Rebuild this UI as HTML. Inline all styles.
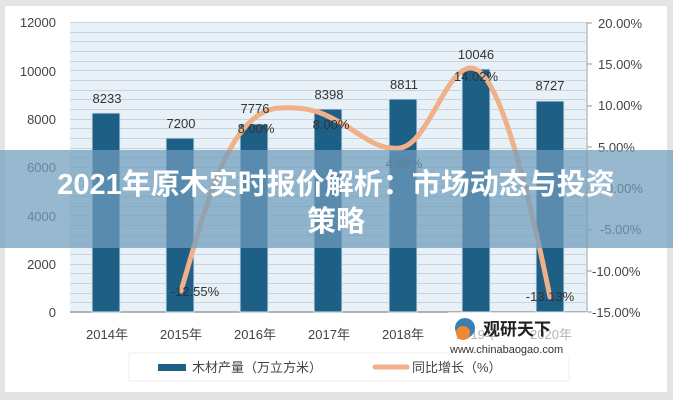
<!DOCTYPE html>
<html><head><meta charset="utf-8"><style>
body{margin:0;background:#e6e6e6;}
svg{display:block;}
text{font-family:"Liberation Sans","Noto Sans CJK SC",sans-serif;}
</style></head><body>
<svg width="673" height="400" viewBox="0 0 673 400" xmlns="http://www.w3.org/2000/svg">
<rect x="0" y="0" width="673" height="400" fill="#e4e4e4"/>
<rect x="5" y="6" width="662" height="386" fill="#ffffff"/>
<rect x="70" y="22" width="516" height="290" fill="#e9f1f8"/>
<g stroke="#c9d3dd" stroke-width="1">
<line x1="70" x2="586" y1="22.5" y2="22.5"/><line x1="70" x2="586" y1="32.5" y2="32.5"/><line x1="70" x2="586" y1="41.5" y2="41.5"/><line x1="70" x2="586" y1="51.5" y2="51.5"/><line x1="70" x2="586" y1="61.5" y2="61.5"/><line x1="70" x2="586" y1="70.5" y2="70.5"/><line x1="70" x2="586" y1="80.5" y2="80.5"/><line x1="70" x2="586" y1="90.5" y2="90.5"/><line x1="70" x2="586" y1="99.5" y2="99.5"/><line x1="70" x2="586" y1="109.5" y2="109.5"/><line x1="70" x2="586" y1="119.5" y2="119.5"/><line x1="70" x2="586" y1="128.5" y2="128.5"/><line x1="70" x2="586" y1="138.5" y2="138.5"/><line x1="70" x2="586" y1="148.5" y2="148.5"/><line x1="70" x2="586" y1="157.5" y2="157.5"/><line x1="70" x2="586" y1="167.5" y2="167.5"/><line x1="70" x2="586" y1="177.5" y2="177.5"/><line x1="70" x2="586" y1="186.5" y2="186.5"/><line x1="70" x2="586" y1="196.5" y2="196.5"/><line x1="70" x2="586" y1="206.5" y2="206.5"/><line x1="70" x2="586" y1="215.5" y2="215.5"/><line x1="70" x2="586" y1="225.5" y2="225.5"/><line x1="70" x2="586" y1="235.5" y2="235.5"/><line x1="70" x2="586" y1="244.5" y2="244.5"/><line x1="70" x2="586" y1="254.5" y2="254.5"/><line x1="70" x2="586" y1="264.5" y2="264.5"/><line x1="70" x2="586" y1="273.5" y2="273.5"/><line x1="70" x2="586" y1="283.5" y2="283.5"/><line x1="70" x2="586" y1="293.5" y2="293.5"/><line x1="70" x2="586" y1="302.5" y2="302.5"/>
</g>
<line x1="70" x2="586" y1="312" y2="312" stroke="#9a9a9a" stroke-width="1.5"/>
<line x1="587" x2="587" y1="22" y2="312" stroke="#9a9a9a" stroke-width="1"/>
<g stroke="#9a9a9a"><line x1="587" x2="592" y1="23" y2="23"/><line x1="587" x2="592" y1="64" y2="64"/><line x1="587" x2="592" y1="106" y2="106"/><line x1="587" x2="592" y1="147" y2="147"/><line x1="587" x2="592" y1="188" y2="188"/><line x1="587" x2="592" y1="230" y2="230"/><line x1="587" x2="592" y1="271" y2="271"/><line x1="587" x2="592" y1="312" y2="312"/></g>
<g fill="#1d5f85" stroke="#d8e6f0" stroke-width="1">
<rect x="92" y="113" width="28" height="199"/>
<rect x="166" y="138" width="28" height="174"/>
<rect x="240" y="124" width="28" height="188"/>
<rect x="314" y="109" width="28" height="203"/>
<rect x="389" y="99" width="28" height="213"/>
<rect x="462" y="69" width="28" height="243"/>
<rect x="536" y="101" width="28" height="211"/>
</g>
<path d="M181,291 C205,210 228,110 280,108 C318,106 330,118 345,125 C370,142 382,150 400,148 C428,144 445,70 470,68 C495,66 522,160 550,297" fill="none" stroke="#f0b08a" stroke-width="5" stroke-linecap="round"/>
<g font-size="13" fill="#333" text-anchor="middle">
<text x="107" y="103">8233</text><text x="181" y="128">7200</text><text x="255" y="113">7776</text><text x="329" y="99">8398</text><text x="404" y="89">8811</text><text x="476" y="59">10046</text><text x="550" y="90">8727</text>
<text x="256" y="133">8.00%</text><text x="331" y="129">8.00%</text><text x="404" y="168">4.92%</text><text x="476" y="81">14.02%</text><text x="195" y="296">-12.55%</text><text x="550" y="301">-13.13%</text>
</g>
<g font-size="13" fill="#444" text-anchor="end">
<text x="56" y="27">12000</text><text x="56" y="76">10000</text><text x="56" y="124">8000</text><text x="56" y="172">6000</text><text x="56" y="221">4000</text><text x="56" y="269">2000</text><text x="56" y="317">0</text>
</g>
<g font-size="13" fill="#444" text-anchor="start">
<text x="598" y="28">20.00%</text><text x="598" y="69">15.00%</text><text x="598" y="110">10.00%</text><text x="598" y="152">5.00%</text><text x="606" y="193">0.00%</text><text x="600" y="234">-5.00%</text><text x="592" y="276">-10.00%</text><text x="592" y="317">-15.00%</text>
</g>
<g font-size="13" fill="#444" text-anchor="middle">
<text x="107" y="339">2014年</text><text x="181" y="339">2015年</text><text x="255" y="339">2016年</text><text x="329" y="339">2017年</text><text x="403" y="339">2018年</text><text x="477" y="339">2019年</text><text x="551" y="339">2020年</text>
</g>
<rect x="129" y="353" width="440" height="28" fill="#fff" stroke="#eee"/>
<rect x="158" y="364" width="28" height="7" fill="#1d5f85"/>
<text x="192" y="372" font-size="13" fill="#444">木材产量（万立方米）</text>
<line x1="375" x2="407" y1="367" y2="367" stroke="#f0b08a" stroke-width="5" stroke-linecap="round"/>
<text x="412" y="372" font-size="13" fill="#444">同比增长（%）</text>
<rect x="448" y="312" width="140" height="45" fill="#ffffff" opacity="0.6"/>
<circle cx="465" cy="328" r="10" fill="#3a7fb0"/><circle cx="463" cy="333" r="7" fill="#f08a30"/>
<text x="483" y="335" font-size="17" font-weight="bold" fill="#222">观研天下</text>
<text x="450" y="353" font-size="11" fill="#333">www.chinabaogao.com</text>
<rect x="0" y="150" width="673" height="98" fill="#6f9cbd" opacity="0.72"/>
<g font-size="29" font-weight="bold" fill="#fff" text-anchor="middle">
<text x="336" y="194">2021年原木实时报价解析：市场动态与投资</text>
<text x="336" y="231">策略</text>
</g>
</svg>
</body></html>
